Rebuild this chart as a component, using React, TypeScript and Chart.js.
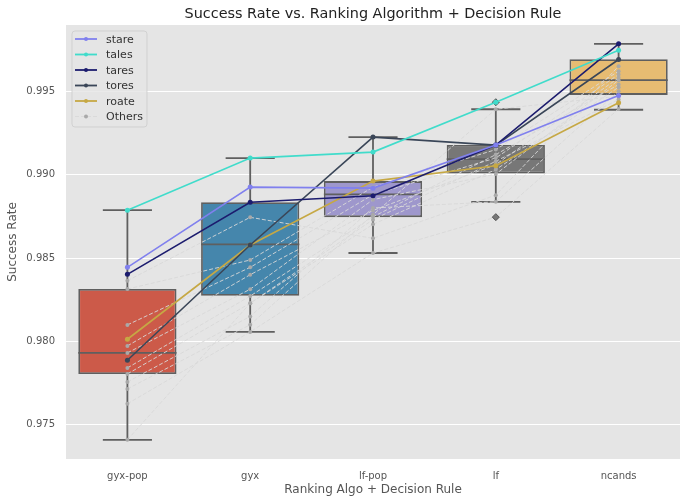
import React, { useEffect, useRef } from 'react'
import { Chart, registerables } from 'chart.js'

Chart.register(...registerables)

const labels = ['gyx-pop', 'gyx', 'lf-pop', 'lf', 'ncands']
const yTicks = [0.975, 0.98, 0.985, 0.99, 0.995]

// box statistics per category
const whiskerLow = [0.9741, 0.98057, 0.9853, 0.98837, 0.99389]
const q1 = [0.97805, 0.98274, 0.98745, 0.99007, 0.99478]
const median = [0.97931, 0.98582, 0.98881, 0.99093, 0.99566]
const q3 = [0.98314, 0.98835, 0.98961, 0.99178, 0.99692]
const whiskerHigh = [0.98787, 0.99099, 0.99225, 0.99392, 0.99784]
const outlierCats = ['lf', 'lf']
const outlierVals = [0.98745, 0.99434]
const boxColors = ['#CC5A49', '#4586AC', '#9E97CC', '#777777', '#E7BC72']

// highlighted words
const stare = [0.98444, 0.98925, 0.98919, 0.99177, 0.99475]
const tales = [0.98787, 0.99099, 0.99135, 0.99434, 0.99746]
const tares = [0.98402, 0.98834, 0.98873, 0.99177, 0.99784]
const tores = [0.97887, 0.98578, 0.99225, 0.99177, 0.9969]
const roate = [0.98013, 0.98578, 0.98961, 0.99053, 0.99431]

// the rest
const others = [
  [0.98364, 0.98744, 0.98618, 0.98877, 0.9965],
  [0.98314, 0.98488, 0.98925, 0.9915, 0.9962],
  [0.98099, 0.98444, 0.9888, 0.991, 0.996],
  [0.97973, 0.984, 0.98785, 0.9906, 0.9958],
  [0.97931, 0.98313, 0.9885, 0.99003, 0.99566],
  [0.97841, 0.98272, 0.98747, 0.9912, 0.9954],
  [0.97805, 0.98229, 0.98702, 0.9903, 0.99524],
  [0.97757, 0.9815, 0.988, 0.98837, 0.995],
  [0.97715, 0.981, 0.9876, 0.99392, 0.9947],
  [0.97626, 0.98057, 0.9853, 0.98745, 0.99394],
  [0.9741, 0.98229, 0.9873, 0.9908, 0.9945],
]

const named = [
  { name: 'stare', data: stare, color: '#8080EE' },
  { name: 'tales', data: tales, color: '#40DCCB' },
  { name: 'tares', data: tares, color: '#1C1C6E' },
  { name: 'tores', data: tores, color: '#3A4658' },
  { name: 'roate', data: roate, color: '#C6A844' },
]

const FONT = 'DejaVu Sans'
const OTHER_LINE = 'rgba(216,216,216,0.9)'
const OTHER_DOT = '#A9A9A9'
const EDGE = '#5F5F5F'

const boxPlugin = {
  id: 'boxExtras',
  afterDatasetDraw(chart: any, args: any) {
    if (args.index !== 0) return
    const { ctx } = chart
    const y = chart.scales.y
    const meta = chart.getDatasetMeta(0)
    ctx.save()
    ctx.strokeStyle = EDGE
    ctx.lineWidth = 1.8
    meta.data.forEach((bar: any, i: number) => {
      const cx = bar.x
      const half = bar.width / 2
      const cap = bar.width / 4
      const segs = [
        [cx, y.getPixelForValue(q3[i]), cx, y.getPixelForValue(whiskerHigh[i])],
        [cx, y.getPixelForValue(q1[i]), cx, y.getPixelForValue(whiskerLow[i])],
        [cx - cap, y.getPixelForValue(whiskerHigh[i]), cx + cap, y.getPixelForValue(whiskerHigh[i])],
        [cx - cap, y.getPixelForValue(whiskerLow[i]), cx + cap, y.getPixelForValue(whiskerLow[i])],
        [cx - half, y.getPixelForValue(median[i]), cx + half, y.getPixelForValue(median[i])],
      ]
      segs.forEach(([x1, y1, x2, y2]) => {
        ctx.beginPath()
        ctx.moveTo(x1, y1)
        ctx.lineTo(x2, y2)
        ctx.stroke()
      })
    })
    ctx.restore()
  },
  afterDraw(chart: any) {
    const { ctx, chartArea } = chart
    ctx.save()
    // title
    ctx.fillStyle = '#222222'
    ctx.font = `14.4px "${FONT}"`
    ctx.textAlign = 'center'
    ctx.textBaseline = 'middle'
    ctx.fillText('Success Rate vs. Ranking Algorithm + Decision Rule', (chartArea.left + chartArea.right) / 2, 14)
    // axis titles
    ctx.fillStyle = '#555555'
    ctx.font = `12px "${FONT}"`
    ctx.fillText('Ranking Algo + Decision Rule', (chartArea.left + chartArea.right) / 2, 490)
    ctx.save()
    ctx.translate(13, (chartArea.top + chartArea.bottom) / 2)
    ctx.rotate(-Math.PI / 2)
    ctx.fillText('Success Rate', 0, 0)
    ctx.restore()

    // legend
    const lx = 72
    const ly = 31
    ctx.fillStyle = 'rgba(229,229,229,0.8)'
    ctx.strokeStyle = 'rgba(204,204,204,0.8)'
    ctx.lineWidth = 1
    ctx.beginPath()
    ctx.roundRect(lx, ly, 75, 96, 3)
    ctx.fill()
    ctx.stroke()
    const items = [
      ...named.map((n) => ({ name: n.name, color: n.color, dot: n.color, dash: [] as number[], w: 1.8 })),
      { name: 'Others', color: OTHER_LINE, dot: OTHER_DOT, dash: [4, 2], w: 1 },
    ]
    ctx.font = `11px "${FONT}"`
    ctx.textAlign = 'left'
    items.forEach((it, i) => {
      const yy = 39 + i * 15.5
      ctx.strokeStyle = it.color
      ctx.lineWidth = it.w
      ctx.setLineDash(it.dash)
      ctx.beginPath()
      ctx.moveTo(75, yy)
      ctx.lineTo(97, yy)
      ctx.stroke()
      ctx.setLineDash([])
      ctx.fillStyle = it.dot
      ctx.beginPath()
      ctx.arc(86, yy, 2, 0, Math.PI * 2)
      ctx.fill()
      ctx.fillStyle = '#333333'
      ctx.fillText(it.name, 106, yy + 1)
    })
    ctx.restore()
  },
}

const App = () => {
  const chartRef = useRef<HTMLCanvasElement | null>(null)

  useEffect(() => {
    document.body.style.margin = '0'
    if (!chartRef.current) return

    const otherSets = others.map((d) => ({
      type: 'line' as const,
      data: d,
      borderColor: OTHER_LINE,
      borderWidth: 1,
      borderDash: [4, 2],
      pointRadius: 2,
      pointBackgroundColor: OTHER_DOT,
      pointBorderWidth: 0,
      order: 5,
    }))

    const namedSets = named.map((n) => ({
      type: 'line' as const,
      label: n.name,
      data: n.data,
      borderColor: n.color,
      borderWidth: 1.6,
      pointRadius: 2.5,
      pointBackgroundColor: n.color,
      pointBorderWidth: 0,
      order: 1,
    }))

    const chart = new Chart(chartRef.current, {
      type: 'bar',
      data: {
        labels,
        datasets: [
          {
            type: 'bar',
            data: q1.map((v, i) => [v, q3[i]]),
            backgroundColor: boxColors,
            borderColor: EDGE,
            borderWidth: 1.8,
            borderSkipped: false,
            barPercentage: 0.8,
            categoryPercentage: 1,
            order: 10,
          } as any,
          ...otherSets,
          {
            type: 'line',
            data: outlierCats.map((c, i) => ({ x: c, y: outlierVals[i] })),
            showLine: false,
            pointStyle: 'rectRot',
            pointRadius: 3.5,
            pointBackgroundColor: '#777777',
            pointBorderColor: '#555555',
            pointBorderWidth: 1,
            order: 3,
          } as any,
          ...namedSets,
        ],
      },
      options: {
        responsive: true,
        maintainAspectRatio: false,
        animation: false,
        layout: { padding: { top: 25, right: 6, left: 0, bottom: 0 } },
        plugins: {
          legend: { display: false },
          tooltip: { enabled: false },
          title: { display: false },
        },
        scales: {
          x: {
            grid: { display: false },
            border: { display: false },
            ticks: { color: '#555555', font: { family: FONT, size: 10 }, padding: 3 },
            afterFit: (s: any) => {
              s.height = 44
            },
          },
          y: {
            min: 0.97295,
            max: 0.99897,
            grid: { color: '#FFFFFF', lineWidth: 1, drawTicks: false },
            border: { display: false },
            ticks: {
              color: '#555555',
              font: { family: FONT, size: 10 },
              padding: 11,
              callback: (v: any) => Number(v).toFixed(3),
            },
            afterBuildTicks: (s: any) => {
              s.ticks = yTicks.map((v) => ({ value: v }))
            },
            afterFit: (s: any) => {
              s.width = 66
            },
          },
        },
      },
      plugins: [
        {
          id: 'bgFill',
          beforeDraw(c: any) {
            const { ctx, chartArea } = c
            ctx.save()
            ctx.fillStyle = '#FFFFFF'
            ctx.fillRect(0, 0, c.width, c.height)
            ctx.fillStyle = '#E5E5E5'
            ctx.fillRect(chartArea.left, chartArea.top, chartArea.right - chartArea.left, chartArea.bottom - chartArea.top)
            ctx.restore()
          },
        },
        boxPlugin,
      ],
    })

    return () => chart.destroy()
  }, [])

  return (
    <div style={{ position: 'relative', width: 686, height: 503 }}>
      <canvas ref={chartRef} />
    </div>
  )
}

export default App
